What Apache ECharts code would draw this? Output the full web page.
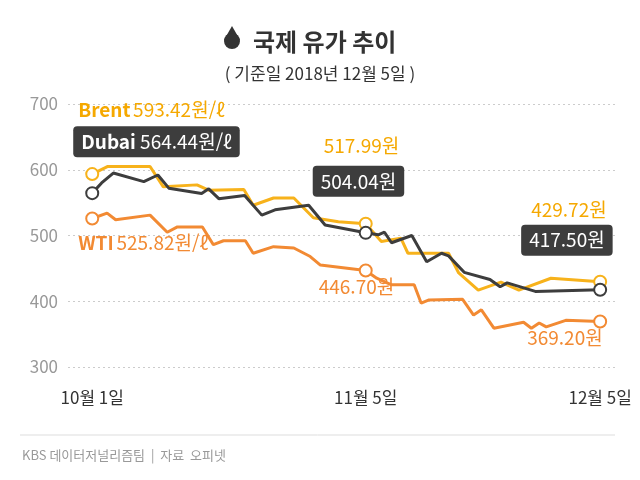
<!DOCTYPE html>
<html lang="ko">
<head>
<meta charset="UTF-8">
<title>국제 유가 추이</title>
<script src="https://cdn.jsdelivr.net/npm/echarts@6/dist/echarts.min.js"></script>
<style>
  html, body { margin: 0; padding: 0; background: #fff; }
  #chart { width: 640px; height: 480px; }
</style>
</head>
<body>
<div id="chart"></div>
<script>
// days since 10월 1일
var brentDays = [0, 2, 7.4, 9.1, 13.4, 14.9, 19.4, 20.6, 23.2, 25.8, 28.3, 31.5, 35, 37, 39.5, 40.4, 45.6, 46.9, 49.4, 52.3, 54.6, 58.7, 65];
var brentVals = [593.42, 605, 605, 574, 577, 569, 570, 546, 557, 557, 527, 521, 517.99, 491, 496, 473, 473, 443, 417, 429, 417, 435, 429.72];

var dubaiDays = [0, 1.2, 2.7, 6.6, 8.4, 9.8, 14, 14.9, 16.2, 19.5, 21.7, 23.4, 27.7, 29.8, 35, 36.6, 37.4, 38.3, 40.9, 42.8, 44.7, 45.6, 47.6, 50.9, 52.2, 53.1, 56.7, 65];
var dubaiVals = [564.44, 580, 595, 582, 592, 572, 564, 571, 556, 561, 531, 539, 546, 516, 504.04, 501, 505, 489, 500, 460, 473, 469, 444, 433, 422, 428, 415, 417.5];

var wtiDays = [0, 1.9, 3, 7.4, 9.6, 10.9, 14.1, 15.5, 16.8, 19.6, 20.6, 23.2, 25.8, 27.9, 29.2, 35, 36.4, 38.3, 41.2, 42.1, 43.1, 47.4, 48.8, 49.8, 51.4, 55.2, 56.2, 57.2, 58.1, 60.6, 65];
var wtiVals = [525.82, 534, 524, 531, 505, 513, 513, 486, 492, 492, 473, 483, 481, 468, 455, 446.7, 435, 425, 425, 397, 402, 403, 379, 387, 359, 368, 359, 367, 361, 371, 369.2];

var tickDays = [0, 35, 65];
var tickNames = {0: '10월 1일', 35: '11월 5일', 65: '12월 5일'};

function pairs(d, v) { return d.map(function (x, i) { return [x, v[i]]; }); }

var font = '"Noto Sans CJK KR", "Noto Sans", sans-serif';
var boxLabel = { show: true, color: '#fff', backgroundColor: '#3d3d3d',
  borderRadius: 4, padding: [6, 8], fontSize: 19, fontFamily: font };

function marker(color, x, y, label) {
  var p = { value: [x, y], symbol: 'circle', symbolSize: 12,
    itemStyle: { color: '#fff', borderColor: color, borderWidth: 2, opacity: 1 } };
  if (label) p.label = label;
  return p;
}

var chart = echarts.init(document.getElementById('chart'));
chart.setOption({
  animation: false,
  textStyle: { fontFamily: font },
  title: [
    { text: '국제 유가 추이', left: 248, top: 25,
      textStyle: { fontSize: 24, fontWeight: 'bold', color: '#333', fontFamily: font } },
    { text: '( 기준일 2018년 12월 5일 )', left: 'center', top: 60,
      textStyle: { fontSize: 17, fontWeight: 'normal', color: '#333', fontFamily: font } }
  ],
  grid: { left: 68, right: 25, top: 104, bottom: 113 },
  xAxis: {
    type: 'value', min: -3.1, max: 66.9,
    axisLine: { show: false }, axisTick: { show: false }, splitLine: { show: false },
    axisLabel: { customValues: tickDays, margin: 22, fontSize: 17, color: '#333',
      formatter: function (v) { return tickNames[v] || ''; } }
  },
  yAxis: {
    type: 'value', min: 300, max: 700, interval: 100,
    axisLine: { show: false }, axisTick: { show: false },
    axisLabel: { fontSize: 17, color: '#999', margin: 10 },
    splitLine: { lineStyle: { color: '#ccc', type: [2, 3] } }
  },
  series: [
    { type: 'line', name: 'Brent', data: pairs(brentDays, brentVals), symbol: 'none', z: 2,
      lineStyle: { color: '#f7b21b', width: 3 },
      markLine: { silent: true, symbol: 'none', label: { show: false },
        lineStyle: { color: '#999', type: 'solid', width: 1 },
        data: [[{ coord: [35, 660] }, { coord: [35, 280] }], [{ coord: [65, 700] }, { coord: [65, 280] }]] } },
    { type: 'line', name: 'WTI', data: pairs(wtiDays, wtiVals), symbol: 'none', z: 2,
      lineStyle: { color: '#f28a33', width: 3 } },
    { type: 'line', name: 'Dubai', data: pairs(dubaiDays, dubaiVals), symbol: 'none', z: 3,
      lineStyle: { color: '#3d3d3d', width: 3 } },
    { type: 'scatter', z: 5, labelLayout: { hideOverlap: false }, data: [
      marker('#f7b21b', 0, brentVals[0], { show: true, position: [-7, -67], fontFamily: font,
        formatter: '{b|Brent} {n|593.42원/ℓ}',
        rich: { b: { fontSize: 19, fontWeight: 'bold', color: '#f5a800' }, n: { fontSize: 19, color: '#f5a800' } } }),
      marker('#f7b21b', 35, 517.99, { show: true, position: [-35, -80], fontSize: 19, color: '#f5a800', formatter: '517.99원' }),
      marker('#f7b21b', 65, 429.72, { show: true, position: [-62, -74], fontSize: 19, color: '#f5a800', formatter: '429.72원' }),
      marker('#f28a33', 0, wtiVals[0], { show: true, position: [-7, 22], fontFamily: font,
        formatter: '{b|WTI} {n|525.82원/ℓ}',
        rich: { b: { fontSize: 19, fontWeight: 'bold', color: '#f28a33' }, n: { fontSize: 19, color: '#f28a33' } } }),
      marker('#f28a33', 35, 446.7, { show: true, position: [-40, 14], fontSize: 19, color: '#f28a33', formatter: '446.70원' }),
      marker('#f28a33', 65, 369.2, { show: true, position: [-66, 14], fontSize: 19, color: '#f28a33', formatter: '369.20원' }),
      marker('#3d3d3d', 0, dubaiVals[0], Object.assign({}, boxLabel, { position: [-12, -60],
        formatter: '{b|Dubai} {n|564.44원/ℓ}',
        rich: { b: { fontSize: 19, fontWeight: 'bold', color: '#fff' }, n: { fontSize: 19, color: '#fff' } } })),
      marker('#3d3d3d', 35, 504.04, Object.assign({}, boxLabel, { position: [-46, -60], formatter: '504.04원' })),
      marker('#3d3d3d', 65, 417.5, Object.assign({}, boxLabel, { position: [-72, -58], formatter: '417.50원' }))
    ] }
  ],
  graphic: [
    { type: 'polygon', shape: { points: [[232, 26], [224, 40], [240, 40]] }, style: { fill: '#333' } },
    { type: 'circle', shape: { cx: 232, cy: 41, r: 8 }, style: { fill: '#333' } },
    { type: 'line', shape: { x1: 20, y1: 435, x2: 615, y2: 435 }, style: { stroke: '#ddd', lineWidth: 1 } },
    { type: 'text', left: 22, top: 449, style: { text: 'KBS 데이터저널리즘팀  |  자료  오피넷',
      fill: '#999', fontSize: 13, fontFamily: font } }
  ]
});
</script>
</body>
</html>
